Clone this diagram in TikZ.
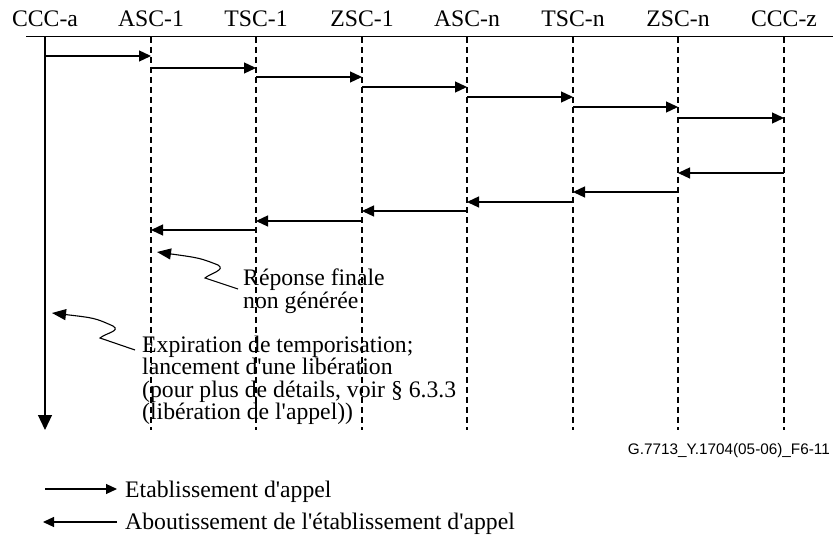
\documentclass[tikz,border=0pt]{standalone}
\usepackage{fontspec}
\setmainfont{Liberation Serif}[Ligatures=TeXOff]
\newfontfamily\labelsans{Liberation Sans}
\usetikzlibrary{arrows.meta}
\tikzset{
  lbl/.style={font=\fontsize{23.7}{22.5}\selectfont, inner sep=0pt},
  lifel/.style={line width=1.2pt, dash pattern=on 6pt off 4pt},
  msg/.style={line width=1.3pt, -{Triangle[length=12pt,width=11pt]}},
  legarrow/.style={line width=1.1pt, -{Triangle[length=11pt,width=10pt]}},
  note/.style={line width=1.1pt, -{Triangle[length=14pt,width=11pt]}},
}
\begin{document}
\begin{tikzpicture}[x=1pt,y=-1pt]
\useasboundingbox (0,0) rectangle (833,537);
% header labels
\node[lbl, anchor=base] (h0) at (45,27) {CCC-a};
\node[lbl, anchor=base] (h1) at (151,27) {ASC-1};
\node[lbl, anchor=base] (h2) at (256,27) {TSC-1};
\node[lbl, anchor=base] (h3) at (362,27) {ZSC-1};
\node[lbl, anchor=base] (h4) at (467,27) {ASC-n};
\node[lbl, anchor=base] (h5) at (573,27) {TSC-n};
\node[lbl, anchor=base] (h6) at (678,27) {ZSC-n};
\node[lbl, anchor=base] (h7) at (784,27) {CCC-z};
% header line
\coordinate (hl0) at (26,37);
\coordinate (hl1) at (833,37);
\draw[line width=1pt] (hl0) -- (hl1);
% lifelines
\foreach \i/\x in {0/45,1/151,2/256,3/362,4/467,5/573,6/678,7/784}{
  \coordinate (t\i) at (\x,37);
  \coordinate (b\i) at (\x,430);
}
\draw[line width=1.2pt, -{Triangle[length=15pt,width=14pt]}] (t0) -- (b0);
\foreach \i in {1,...,7}{ \draw[lifel] (t\i) -- (b\i); }
% set-up messages
\foreach \a/\b/\y in {0/1/56,1/2/68,2/3/77,3/4/87,4/5/97,5/6/107,6/7/118}
  \draw[msg] (t\a |- 0,\y) -- (t\b |- 0,\y);
% answer messages
\foreach \a/\b/\y in {7/6/173,6/5/192,5/4/202,4/3/211,3/2/221,2/1/230}
  \draw[msg] (t\a |- 0,\y) -- (t\b |- 0,\y);
% annotation 1
\node[lbl, anchor=base west, align=left] (n1) at (243,308.5) {Réponse finale\\non générée};
\coordinate (s1) at (238,289);
\coordinate (e1) at (157,252);
\draw[note] (s1) -- (205,278) .. controls (211,273) and (226,270) .. (218,265) .. controls (200,258) .. (e1);
% annotation 2
\node[lbl, anchor=base west, align=left] (n2) at (142,419.5) {Expiration de temporisation;\\lancement d'une libération\\(pour plus de détails, voir § 6.3.3\\(libération de l'appel))};
\coordinate (s2) at (135,350);
\coordinate (e2) at (52,313);
\draw[note] (s2) -- (100,338) .. controls (106,333) and (121,331) .. (113,326) .. controls (95,318) .. (e2);
% figure id
\node[font=\labelsans\fontsize{15.3}{15.3}\selectfont, anchor=base east, inner sep=0pt] (fid) at (830,454) {G.7713\_Y.1704(05-06)\_F6-11};
% legend
\coordinate (la1) at (45,489);
\coordinate (la2) at (117,489);
\draw[legarrow] (la1) -- (la2);
\node[lbl, anchor=base west] (lt1) at (125,497) {Etablissement d'appel};
\coordinate (lb1) at (117,522);
\coordinate (lb2) at (43,522);
\draw[legarrow] (lb1) -- (lb2);
\node[lbl, anchor=base west] (lt2) at (125,529) {Aboutissement de l'établissement d'appel};
\end{tikzpicture}
\end{document}
